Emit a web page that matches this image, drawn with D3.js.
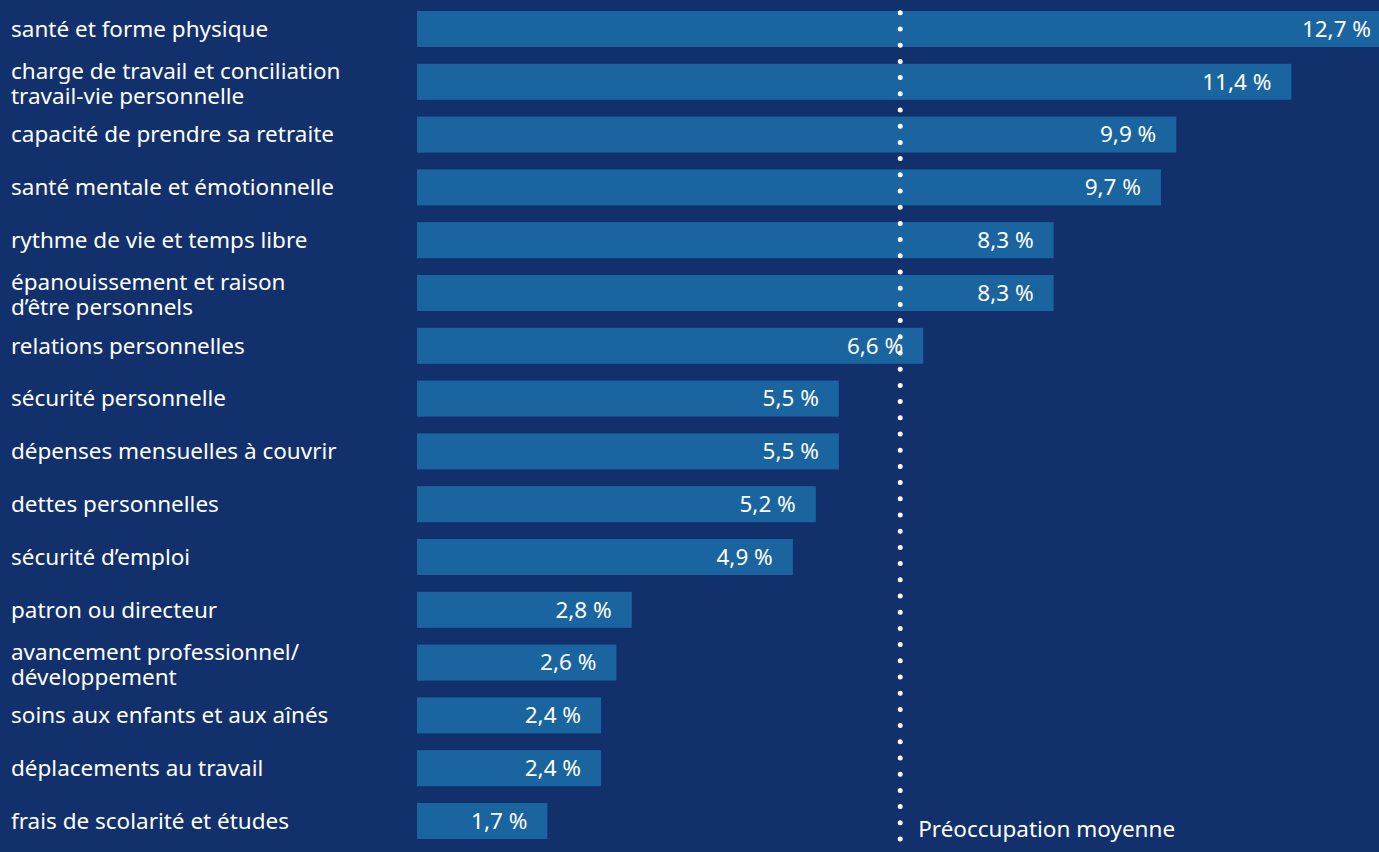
<!DOCTYPE html>
<html lang="fr">
<head>
<meta charset="utf-8">
<script src="https://cdn.jsdelivr.net/npm/d3@7"></script>
<style>
  html, body { margin: 0; padding: 0; background: #11306c; }
  svg { display: block; }
  text { font-family: "Noto Sans", "Open Sans", sans-serif; fill: #ffffff; }
</style>
</head>
<body>
<svg id="chart" width="1379" height="852"></svg>
<script>
// Categories (each entry lists the lines of its label)
const categories = [
  ["santé et forme physique"],
  ["charge de travail et conciliation", "travail-vie personnelle"],
  ["capacité de prendre sa retraite"],
  ["santé mentale et émotionnelle"],
  ["rythme de vie et temps libre"],
  ["épanouissement et raison", "d’être personnels"],
  ["relations personnelles"],
  ["sécurité personnelle"],
  ["dépenses mensuelles à couvrir"],
  ["dettes personnelles"],
  ["sécurité d’emploi"],
  ["patron ou directeur"],
  ["avancement professionnel/", "développement"],
  ["soins aux enfants et aux aînés"],
  ["déplacements au travail"],
  ["frais de scolarité et études"]
];

// Share of respondents (%)
const values = [12.7, 11.4, 9.9, 9.7, 8.3, 8.3, 6.6, 5.5, 5.5, 5.2, 4.9, 2.8, 2.6, 2.4, 2.4, 1.7];

// Reference line value and label
const averageValue = 6.3;
const averageLabel = "Préoccupation moyenne";

const fmt = v => d3.format(".1f")(v).replace(".", ",") + "\u00a0%";

const svg = d3.select("#chart");
const FS = 22.5;

const ids = categories.map((c, i) => i);

const x = d3.scaleLinear().domain([0, 10]).range([417, 417 + 767]);
const y = d3.scaleBand()
  .domain(ids)
  .range([2.6, 2.6 + 16 * 52.8])
  .paddingInner(0.318)
  .paddingOuter(0.159);

// Bars
svg.append("g").selectAll("rect")
  .data(values)
  .join("rect")
  .attr("x", x(0))
  .attr("y", (d, i) => y(i))
  .attr("width", d => x(d) - x(0))
  .attr("height", y.bandwidth())
  .attr("fill", "#1a64a0");

// Value labels inside bar ends
svg.append("g").selectAll("text")
  .data(values)
  .join("text")
  .attr("x", d => x(d) - 20)
  .attr("y", (d, i) => y(i) + y.bandwidth() / 2)
  .attr("dy", "0.35em")
  .attr("text-anchor", "end")
  .attr("font-size", FS)
  .text(d => fmt(d));

// Category labels (wrapped labels sit a touch lower)
const lineH = 25.5;
const lab = svg.append("g").selectAll("text")
  .data(categories)
  .join("text")
  .attr("x", 11)
  .attr("y", (d, i) => y(i) + y.bandwidth() / 2 - (d.length - 1) * (lineH / 2 - 1.8))
  .attr("font-size", FS);
lab.selectAll("tspan")
  .data(d => d)
  .join("tspan")
  .attr("x", 11)
  .attr("dy", (d, j) => j === 0 ? "0.35em" : lineH)
  .text(d => d);

// Dotted average line
svg.append("line")
  .attr("x1", x(averageValue)).attr("x2", x(averageValue))
  .attr("y1", 12.8).attr("y2", 845)
  .attr("stroke", "#ffffff")
  .attr("stroke-width", 5)
  .attr("stroke-linecap", "round")
  .attr("stroke-dasharray", "0 16.2");

svg.append("text")
  .attr("x", x(averageValue) + 18)
  .attr("y", 837)
  .attr("font-size", FS)
  .text(averageLabel);
</script>
</body>
</html>
